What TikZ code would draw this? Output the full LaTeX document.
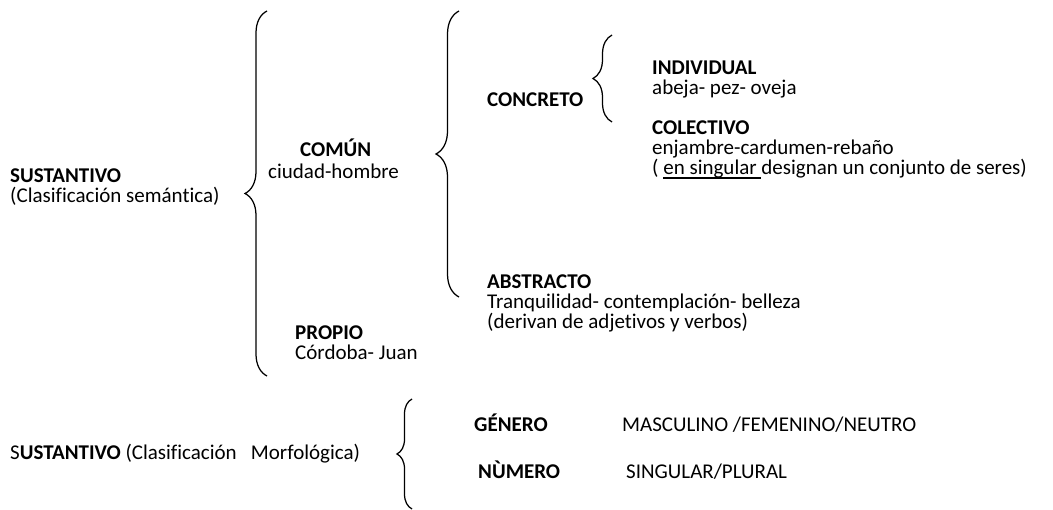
\documentclass[tikz,border=0pt]{standalone}
\usepackage{fontspec}
\setmainfont{Carlito}[Ligatures=NoCommon]
\usetikzlibrary{decorations.pathreplacing}
\newcommand{\subrayado}[1]{\setbox0\hbox{#1}\rlap{\rule[-4.5pt]{\wd0}{2pt}}\box0}

\begin{document}
\begin{tikzpicture}[x=1pt,y=1pt]
            \tikzstyle{every node}+=[inner sep=0pt, anchor=base west, font=\fontsize{21}{22}\selectfont]
            \tikzstyle{brc}=[black, line width=1.25pt, decorate]
            \useasboundingbox (0,0) rectangle (1053,-510);
            \node (sust) at (10,-183) {\textbf{SUSTANTIVO}};
            \node (sustsem) at (10,-203) {(Clasificación semántica)};
            \coordinate (bAtop) at (267,-11);
            \coordinate (bAbot) at (267,-376);
            \draw [brc, decoration={brace, amplitude=22pt}] (bAbot) -- (bAtop);
            \node (comun) at (300,-157) {\textbf{COMÚN}};
            \node (comunej) at (268,-179) {ciudad-hombre};
            \node (propio) at (295,-340) {\textbf{PROPIO}};
            \node (propioej) at (295,-360) {Córdoba- Juan};
            \coordinate (bBtop) at (459,-11);
            \coordinate (bBbot) at (459,-297);
            \draw [brc, decoration={brace, amplitude=23pt}] (bBbot) -- (bBtop);
            \node (concreto) at (487,-107) {\textbf{CONCRETO}};
            \node (abstracto) at (487,-289) {\textbf{ABSTRACTO}};
            \node (abstractoej) at (487,-309) {Tranquilidad- contemplación- belleza};
            \node (abstractonota) at (487,-329) {(derivan de adjetivos y verbos)};
            \coordinate (bCtop) at (612,-35);
            \coordinate (bCbot) at (612,-122);
            \draw [brc, decoration={brace, amplitude=19pt}] (bCbot) -- (bCtop);
            \node (individual) at (652,-75) {\textbf{INDIVIDUAL}};
            \node (individualej) at (652,-95) {abeja- pez- oveja};
            \node (colectivo) at (652,-135) {\textbf{COLECTIVO}};
            \node (colectivoej) at (652,-155) {enjambre-cardumen-rebaño};
            \node (colectivonota) at (652,-175) {( \subrayado{en singular }designan un conjunto de seres)};
            \node (sustmorf) at (10,-460) {S\textbf{USTANTIVO} (Clasificación\ \ \ Morfológica)};
            \coordinate (bDtop) at (412,-399);
            \coordinate (bDbot) at (412,-509);
            \draw [brc, decoration={brace, amplitude=15pt}] (bDbot) -- (bDtop);
            \node (genero) at (474,-432) {\textbf{GÉNERO}};
            \node (generoval) at (622,-432) {MASCULINO /FEMENINO/NEUTRO};
            \node (numero) at (478,-479) {\textbf{NÙMERO}};
            \node (numeroval) at (626,-479) {SINGULAR/PLURAL};
\end{tikzpicture}
\end{document}
